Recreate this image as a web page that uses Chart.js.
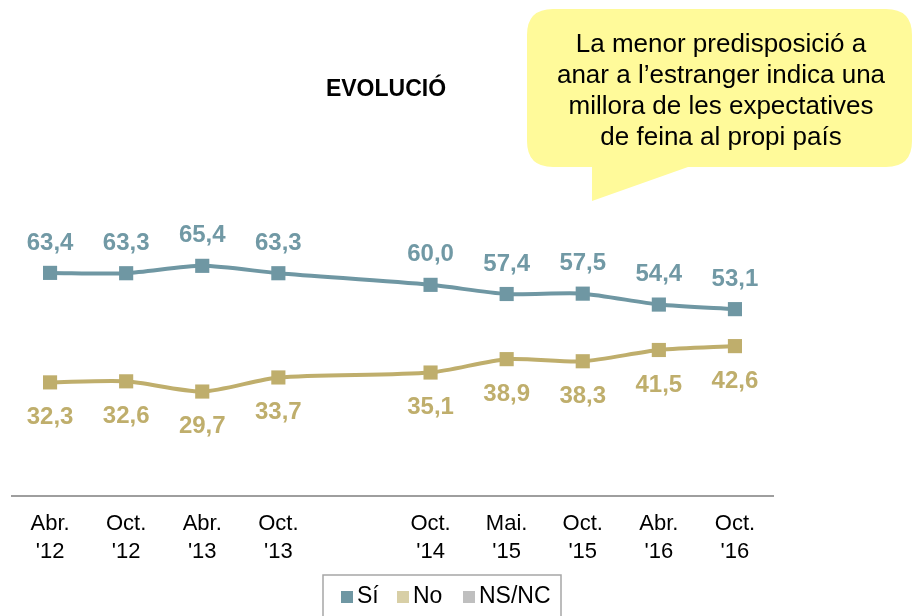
<!DOCTYPE html>
<html lang="ca">
<head>
    <meta charset="UTF-8">
    <title>Evolució</title>
    <script src="https://cdn.jsdelivr.net/npm/chart.js"></script>
    <style>
        html, body { margin: 0; padding: 0; background: #fff; }
        #wrap { width: 914px; height: 616px; }
    </style>
</head>
<body>
    <div id="wrap"><canvas id="grafic" width="914" height="616"></canvas></div>
    <script>
        // dades
        const periodes = [['Abr.', "'12"], ['Oct.', "'12"], ['Abr.', "'13"], ['Oct.', "'13"], ['', ''],
                          ['Oct.', "'14"], ['Mai.', "'15"], ['Oct.', "'15"], ['Abr.', "'16"], ['Oct.', "'16"]];
        const valorsSi = [63.4, 63.3, 65.4, 63.3, null, 60.0, 57.4, 57.5, 54.4, 53.1];
        const valorsNo = [32.3, 32.6, 29.7, 33.7, null, 35.1, 38.9, 38.3, 41.5, 42.6];
        const llegenda = ['Sí', 'No', 'NS/NC'];
        const titol = 'EVOLUCIÓ';
        const textNota = ['La menor predisposició a', 'anar a l’estranger indica una',
                          'millora de les expectatives', 'de feina al propi país'];

        const colorSi = '#6f97a3';
        const colorNo = '#bfae6c';
        const colorsLlegenda = ['#6f97a3', '#d8cfa6', '#bfbfbf'];

        const fmt = v => v.toFixed(1).replace('.', ',');

        const extres = {
            id: 'extres',
            afterDatasetsDraw(chart) {
                const ctx = chart.ctx;
                ctx.save();
                // etiquetes de valors
                ctx.font = 'bold 24px "Liberation Sans", Arial, sans-serif';
                ctx.textAlign = 'center';
                ctx.textBaseline = 'middle';
                chart.data.datasets.forEach((ds, i) => {
                    const meta = chart.getDatasetMeta(i);
                    meta.data.forEach((pt, j) => {
                        const v = ds.data[j];
                        if (v == null) return;
                        ctx.fillStyle = i === 0 ? '#7199a5' : colorNo;
                        ctx.fillText(fmt(v), pt.x, i === 0 ? pt.y - 30 : pt.y + 35);
                    });
                });
                ctx.restore();
            },
            afterDraw(chart) {
                const ctx = chart.ctx;
                ctx.save();
                // títol
                ctx.font = 'bold 23px "Liberation Sans", Arial, sans-serif';
                ctx.fillStyle = '#000';
                ctx.textAlign = 'center';
                ctx.textBaseline = 'middle';
                ctx.fillText(titol, 386, 90);

                // bafarada
                const x0 = 527, y0 = 9, x1 = 912, y1 = 167, r = 26;
                ctx.beginPath();
                ctx.moveTo(x0 + r, y0);
                ctx.lineTo(x1 - r, y0);
                ctx.quadraticCurveTo(x1, y0, x1, y0 + r);
                ctx.lineTo(x1, y1 - r);
                ctx.quadraticCurveTo(x1, y1, x1 - r, y1);
                ctx.lineTo(688, y1);
                ctx.lineTo(592, 201);
                ctx.lineTo(592, y1);
                ctx.lineTo(x0 + r, y1);
                ctx.quadraticCurveTo(x0, y1, x0, y1 - r);
                ctx.lineTo(x0, y0 + r);
                ctx.quadraticCurveTo(x0, y0, x0 + r, y0);
                ctx.closePath();
                ctx.fillStyle = '#fffa9a';
                ctx.fill();
                ctx.fillStyle = '#000';
                ctx.font = '26px "Liberation Sans", Arial, sans-serif';
                textNota.forEach((l, i) => ctx.fillText(l, 721, 45 + i * 31));

                // llegenda
                ctx.strokeStyle = '#a6a6a6';
                ctx.lineWidth = 1.5;
                ctx.strokeRect(323, 575, 238, 45);
                ctx.font = '23px "Liberation Sans", Arial, sans-serif';
                ctx.textAlign = 'left';
                const posX = [341, 397, 463];
                llegenda.forEach((nom, i) => {
                    ctx.fillStyle = colorsLlegenda[i];
                    ctx.fillRect(posX[i], 591, 12, 12);
                    ctx.fillStyle = '#000';
                    ctx.fillText(nom, posX[i] + 16, 597);
                });
                ctx.restore();
            }
        };

        new Chart(document.getElementById('grafic'), {
            type: 'line',
            data: {
                labels: periodes,
                datasets: [{
                    label: llegenda[0],
                    data: valorsSi,
                    borderColor: colorSi,
                    backgroundColor: colorSi,
                    borderWidth: 4,
                    pointStyle: 'rect',
                    pointRadius: 10,
                    pointBorderWidth: 0,
                    tension: 0.25,
                    spanGaps: true
                }, {
                    label: llegenda[1],
                    data: valorsNo,
                    borderColor: colorNo,
                    backgroundColor: colorNo,
                    borderWidth: 4,
                    pointStyle: 'rect',
                    pointRadius: 10,
                    pointBorderWidth: 0,
                    tension: 0.25,
                    spanGaps: true
                }]
            },
            options: {
                responsive: false,
                animation: false,
                layout: { padding: { left: 12, right: 141, top: 144, bottom: 36 } },
                plugins: {
                    legend: { display: false },
                    tooltip: { enabled: false }
                },
                scales: {
                    x: {
                        offset: true,
                        grid: { display: false, drawTicks: false },
                        border: { display: true, color: '#9e9e9e', width: 2 },
                        ticks: {
                            color: '#000',
                            padding: 14,
                            maxRotation: 0,
                            autoSkip: false,
                            font: { family: '"Liberation Sans", Arial, sans-serif', size: 22, lineHeight: 1.27 }
                        }
                    },
                    y: {
                        display: false,
                        min: 0,
                        max: 100
                    }
                }
            },
            plugins: [extres]
        });
    </script>
</body>
</html>
